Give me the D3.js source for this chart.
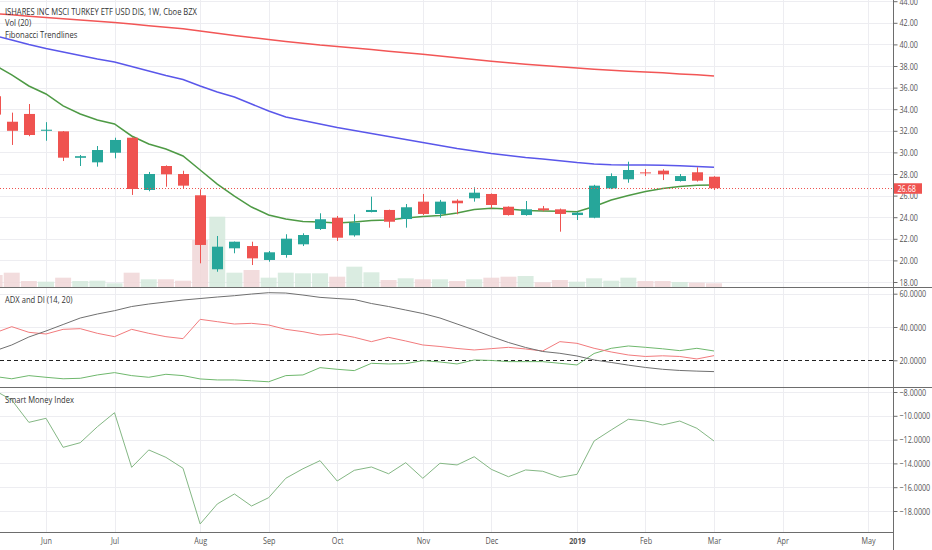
<!DOCTYPE html>
<html>
<head>
<meta charset="utf-8">
<script src="https://cdn.jsdelivr.net/npm/d3@7"></script>
<style>
  body { margin: 0; background: #fff; }
  svg text { font-family: "Open Sans", sans-serif; }
</style>
</head>
<body>
<div id="chart"></div>
<script>

// weekly bars (week start dates)
const weeks = [
  "2018-05-14","2018-05-21","2018-05-28","2018-06-04","2018-06-11","2018-06-18","2018-06-25",
  "2018-07-02","2018-07-09","2018-07-16","2018-07-23","2018-07-30","2018-08-06","2018-08-13",
  "2018-08-20","2018-08-27","2018-09-03","2018-09-10","2018-09-17","2018-09-24","2018-10-01",
  "2018-10-08","2018-10-15","2018-10-22","2018-10-29","2018-11-05","2018-11-12","2018-11-19",
  "2018-11-26","2018-12-03","2018-12-10","2018-12-17","2018-12-24","2018-12-31","2019-01-07",
  "2019-01-14","2019-01-21","2019-01-28","2019-02-04","2019-02-11","2019-02-18","2019-02-25",
  "2019-03-04"
];

const openP = [35.20,32.84,33.56,32.00,31.95,29.50,29.08,29.97,31.36,26.52,28.74,28.00,26.03,19.18,
  21.12,21.33,20.04,20.50,21.49,22.91,23.95,22.32,24.48,24.67,23.83,25.44,24.30,25.53,25.75,26.15,
  24.97,24.20,24.82,24.73,24.20,23.95,26.67,27.51,28.15,28.31,27.35,28.16,27.75];
const highP = [35.60,33.68,34.48,32.80,31.98,29.76,30.59,31.36,31.40,28.19,28.80,28.30,26.58,22.26,
  21.75,21.73,20.87,22.42,22.51,24.36,24.11,24.27,25.90,24.70,25.22,26.15,25.60,25.66,26.77,26.20,
  25.00,25.50,25.04,24.80,24.50,27.00,28.06,29.14,28.46,28.44,28.00,28.62,27.80];
const lowP = [33.20,30.69,31.50,31.08,29.20,28.74,28.68,29.45,26.06,26.40,26.82,26.61,19.73,18.95,
  20.66,19.57,19.88,20.25,21.33,22.82,21.80,22.20,24.45,23.03,23.03,24.20,23.95,24.27,25.44,24.82,
  24.15,24.14,24.55,22.66,23.74,23.90,26.60,27.19,27.81,27.44,27.30,27.30,26.52];
const closeP = [33.50,32.00,31.61,32.10,29.51,29.65,30.22,31.15,26.61,28.00,27.97,26.92,21.43,21.27,
  21.73,20.19,20.75,22.01,22.35,23.81,22.10,23.49,24.67,23.58,24.92,24.30,25.44,25.29,26.27,25.13,
  24.20,24.73,24.64,24.30,24.42,26.92,27.81,28.37,28.10,27.97,27.81,27.38,26.68];

// volume, millions
const volume = [2.40,2.86,1.20,1.06,1.86,1.20,1.26,0.74,2.86,1.54,1.54,1.26,9.40,14.06,2.86,3.40,
  1.86,2.86,2.74,2.74,2.06,4.06,2.94,1.40,1.74,1.54,1.54,1.20,1.54,1.86,2.06,2.20,0.94,1.40,1.06,
  1.74,1.26,1.86,1.20,1.20,1.00,0.86,0.74];

const ma20 = [38.09,37.17,36.15,35.41,34.30,33.56,33.00,32.63,31.52,30.78,30.31,29.67,28.37,27.07,
  25.96,24.94,24.20,23.83,23.60,23.56,23.46,23.56,23.69,23.74,23.93,24.06,24.16,24.39,24.71,24.82,
  24.76,24.62,24.57,24.55,24.51,24.99,25.59,26.01,26.38,26.66,26.84,26.95,26.98];
const ma100 = [40.82,40.41,39.99,39.62,39.30,38.98,38.65,38.37,37.95,37.54,37.12,36.75,36.15,35.59,
  35.13,34.48,33.83,33.28,32.95,32.63,32.31,32.03,31.75,31.47,31.19,30.92,30.64,30.36,30.13,29.90,
  29.71,29.53,29.39,29.23,29.06,28.93,28.86,28.83,28.83,28.81,28.76,28.69,28.62];
const ma200 = [42.86,42.74,42.61,42.49,42.37,42.26,42.14,42.03,41.89,41.73,41.59,41.44,41.24,41.04,
  40.83,40.64,40.45,40.27,40.11,39.94,39.81,39.67,39.52,39.37,39.23,39.08,38.93,38.76,38.60,38.44,
  38.30,38.17,38.05,37.93,37.81,37.70,37.60,37.52,37.44,37.37,37.27,37.18,37.07];

const adx = [25.6,29.2,34.0,37.6,41.5,45.4,47.8,49.8,52.3,53.8,55.0,56.2,57.1,58.0,58.8,59.8,60.6,
  60.4,59.2,57.8,57.1,56.5,54.1,52.3,50.2,48.1,45.4,41.8,38.2,34.3,30.7,27.7,25.3,24.2,22.6,20.2,
  18.7,17.1,15.7,14.6,13.9,13.5,13.2];
const diMinus = [36.4,40.2,36.8,35.8,38.6,39.0,36.2,34.2,38.6,36.2,34.2,33.0,44.6,43.2,41.8,42.2,
  41.2,38.6,37.2,35.2,35.8,33.8,31.2,33.8,31.6,29.2,28.3,27.1,26.2,27.0,27.8,26.8,25.6,31.2,30.2,
  27.2,25.0,23.2,22.3,22.7,22.3,20.8,22.8];
const diPlus = [10.3,8.9,10.8,9.8,8.9,9.2,11.2,12.6,10.8,9.8,11.6,10.8,8.8,8.2,8.2,7.7,7.1,10.8,
  11.2,15.6,14.6,13.8,18.2,17.8,18.0,19.8,19.0,17.8,20.2,19.9,19.2,19.2,19.2,18.2,17.2,24.1,27.2,
  28.6,27.8,26.9,25.8,27.2,25.6];

const smi = [-7.87,-8.67,-10.55,-10.21,-12.65,-12.26,-10.92,-9.74,-14.33,-12.87,-13.49,-14.41,
  -19.09,-17.41,-16.57,-17.58,-16.88,-15.25,-14.45,-13.77,-15.48,-14.58,-14.30,-14.87,-13.94,
  -15.25,-13.99,-14.13,-13.44,-14.50,-15.12,-14.55,-14.66,-15.17,-14.92,-12.12,-11.19,-10.29,
  -10.44,-10.77,-10.44,-11.05,-12.12];

// x-axis ticks: first weekly bar of each month
const monthTicks = ["2018-06-04","2018-07-02","2018-08-06","2018-09-03","2018-10-01","2018-11-05",
  "2018-12-03","2019-01-07","2019-02-04","2019-03-04","2019-04-01","2019-05-06"];
const monthLabels = ["Jun","Jul","Aug","Sep","Oct","Nov","Dec","2019","Feb","Mar","Apr","May"];

const priceTicks = [18,20,22,24,26,28,30,32,34,36,38,40,42,44];
const adxTicks = [20,40,60];
const smiTicks = [-18,-16,-14,-12,-10,-8];

const titleLines = ["ISHARES INC MSCI TURKEY ETF USD DIS, 1W, Cboe BZX", "Vol (20)", "Fibonacci Trendlines"];


class TvChart {

    constructor(_parentElement) {
        this.parentElement = _parentElement;
        this.initVis();
    }

    initVis() {
        let vis = this;

        vis.width = 932;
        vis.height = 550;
        vis.plotRight = 893;
        vis.squeeze = 0.76;

        vis.pane = {
            price: { top: 0, bottom: 287 },
            adx: { top: 287, bottom: 387 },
            smi: { top: 387, bottom: 532 }
        };

        vis.svg = d3.select("#" + vis.parentElement).append("svg")
            .attr("width", vis.width)
            .attr("height", vis.height);

        let parse = d3.utcParse("%Y-%m-%d");
        vis.dates = weeks.map(parse);
        vis.tickDates = monthTicks.map(parse);

        vis.x = d3.scaleUtc()
            .domain([parse("2018-06-04"), parse("2019-03-04")])
            .range([46, 714]);

        vis.yPrice = d3.scaleLinear().domain([18, 44]).range([282, 1.2]);
        vis.yVol = d3.scaleLinear().domain([0, 20]).range([287, 187]);
        vis.yAdx = d3.scaleLinear().domain([20, 60]).range([360.3, 293.7]);
        vis.ySmi = d3.scaleLinear().domain([-18, -8]).range([511, 392]);

        vis.data = weeks.map(function(w, i) {
            return {
                date: vis.dates[i], o: openP[i], h: highP[i], l: lowP[i], c: closeP[i],
                vol: volume[i], ma20: ma20[i], ma100: ma100[i], ma200: ma200[i],
                adx: adx[i], dip: diPlus[i], dim: diMinus[i], smi: smi[i]
            };
        });

        // clip paths per pane
        let defs = vis.svg.append("defs");
        Object.keys(vis.pane).forEach(function(k) {
            defs.append("clipPath").attr("id", "clip-" + k)
                .append("rect")
                .attr("x", 0).attr("y", vis.pane[k].top)
                .attr("width", vis.plotRight).attr("height", vis.pane[k].bottom - vis.pane[k].top);
        });

        vis.drawGrid();
        vis.drawPricePane();
        vis.drawAdxPane();
        vis.drawSmiPane();
        vis.drawAxes();
        vis.drawLabels();
        vis.squeezeText();
    }

    drawGrid() {
        let vis = this;
        let grid = vis.svg.append("g").attr("class", "grid")
            .attr("stroke", "#ededf1").attr("stroke-width", 1);

        grid.selectAll(".vgrid").data(vis.tickDates).enter().append("line")
            .attr("x1", d => Math.round(vis.x(d)) + 0.5).attr("x2", d => Math.round(vis.x(d)) + 0.5)
            .attr("y1", 0).attr("y2", vis.pane.smi.bottom);

        let hLines = priceTicks.map(d => vis.yPrice(d))
            .concat([40, 60].map(d => vis.yAdx(d)))
            .concat(smiTicks.map(d => vis.ySmi(d)));

        grid.selectAll(".hgrid").data(hLines).enter().append("line")
            .attr("x1", 0).attr("x2", vis.plotRight)
            .attr("y1", d => Math.round(d) + 0.5).attr("y2", d => Math.round(d) + 0.5);
    }

    drawPricePane() {
        let vis = this;
        let g = vis.svg.append("g").attr("clip-path", "url(#clip-price)");

        // volume
        g.selectAll(".vol").data(vis.data).enter().append("rect")
            .attr("x", d => vis.x(d.date) - 8)
            .attr("width", 16)
            .attr("y", d => vis.yVol(d.vol))
            .attr("height", d => vis.yVol(0) - vis.yVol(d.vol))
            .attr("fill", d => d.c >= d.o ? "#d4e9dc" : "#f0d6d7")
            .attr("fill-opacity", 0.85);

        // moving averages
        let maSpecs = [["ma200", "#f25656"], ["ma100", "#5a57ea"], ["ma20", "#4e9a45"]];
        maSpecs.forEach(function(s) {
            let line = d3.line()
                .x(d => vis.x(d.date))
                .y(d => vis.yPrice(d[s[0]]));
            g.append("path").datum(vis.data)
                .attr("d", line)
                .attr("fill", "none")
                .attr("stroke", s[1])
                .attr("stroke-width", 1.5);
        });

        // candles
        let candles = g.selectAll(".candle").data(vis.data).enter().append("g")
            .attr("class", "candle");

        candles.append("line")
            .attr("x1", d => Math.round(vis.x(d.date)) + 0.5)
            .attr("x2", d => Math.round(vis.x(d.date)) + 0.5)
            .attr("y1", d => vis.yPrice(d.h))
            .attr("y2", d => vis.yPrice(d.l))
            .attr("stroke", d => d.c >= d.o ? "#26a69a" : "#ef5350")
            .attr("stroke-width", 1);

        candles.append("rect")
            .attr("x", d => Math.round(vis.x(d.date)) - 5)
            .attr("width", 11)
            .attr("y", d => vis.yPrice(Math.max(d.o, d.c)))
            .attr("height", d => Math.max(1, vis.yPrice(Math.min(d.o, d.c)) - vis.yPrice(Math.max(d.o, d.c))))
            .attr("fill", d => d.c >= d.o ? "#26a69a" : "#ef5350");

        // last price line
        let last = vis.data[vis.data.length - 1];
        vis.svg.append("line")
            .attr("x1", 0).attr("x2", vis.plotRight)
            .attr("y1", Math.round(vis.yPrice(last.c)) + 0.5)
            .attr("y2", Math.round(vis.yPrice(last.c)) + 0.5)
            .attr("stroke", "#ef5350")
            .attr("stroke-dasharray", "1,2");
    }

    drawAdxPane() {
        let vis = this;
        let g = vis.svg.append("g").attr("clip-path", "url(#clip-adx)");

        g.append("line")
            .attr("x1", 0).attr("x2", vis.plotRight)
            .attr("y1", Math.round(vis.yAdx(20)) + 0.5).attr("y2", Math.round(vis.yAdx(20)) + 0.5)
            .attr("stroke", "#222")
            .attr("stroke-dasharray", "4,3");

        let specs = [["dip", "#6fb86d"], ["dim", "#f27b7d"], ["adx", "#707070"]];
        specs.forEach(function(s) {
            let line = d3.line()
                .x(d => vis.x(d.date))
                .y(d => vis.yAdx(d[s[0]]));
            g.append("path").datum(vis.data)
                .attr("d", line)
                .attr("fill", "none")
                .attr("stroke", s[1])
                .attr("stroke-width", 1);
        });
    }

    drawSmiPane() {
        let vis = this;
        let g = vis.svg.append("g").attr("clip-path", "url(#clip-smi)");

        let line = d3.line()
            .x(d => vis.x(d.date))
            .y(d => vis.ySmi(d.smi));

        g.append("path").datum(vis.data)
            .attr("d", line)
            .attr("fill", "none")
            .attr("stroke", "#84b784")
            .attr("stroke-width", 1);
    }

    drawAxes() {
        let vis = this;

        // pane separators
        [vis.pane.price.bottom, vis.pane.adx.bottom].forEach(function(y) {
            vis.svg.append("line")
                .attr("x1", 0).attr("x2", vis.width)
                .attr("y1", y + 0.5).attr("y2", y + 0.5)
                .attr("stroke", "#6d6d6d");
        });
        vis.svg.append("line")
            .attr("x1", 0).attr("x2", vis.plotRight)
            .attr("y1", vis.pane.smi.bottom + 0.5).attr("y2", vis.pane.smi.bottom + 0.5)
            .attr("stroke", "#6d6d6d");
        vis.svg.append("line")
            .attr("x1", vis.plotRight + 0.5).attr("x2", vis.plotRight + 0.5)
            .attr("y1", 0).attr("y2", vis.height)
            .attr("stroke", "#6d6d6d");

        let axes = [
            [vis.yPrice, priceTicks, d3.format(".2f")],
            [vis.yAdx, adxTicks, d3.format(".4f")],
            [vis.ySmi, smiTicks, d3.format(".4f")]
        ];
        axes.forEach(function(a) {
            let ax = d3.axisRight(a[0]).tickValues(a[1]).tickFormat(a[2])
                .tickSize(4).tickPadding(2);
            let g = vis.svg.append("g")
                .attr("class", "y-axis axis")
                .attr("transform", "translate(" + (vis.plotRight + 0.5) + ",0)")
                .call(ax);
            g.select(".domain").remove();
            g.selectAll("line").attr("stroke", "#6d6d6d");
            g.selectAll("text").attr("class", "sq").attr("fill", "#555")
                .attr("font-size", "9.5px").attr("font-family", "Open Sans, sans-serif");
        });

        let xAxis = d3.axisBottom(vis.x)
            .tickValues(vis.tickDates)
            .tickFormat((d, i) => monthLabels[i])
            .tickSize(0).tickPadding(5);
        let gx = vis.svg.append("g")
            .attr("class", "x-axis axis")
            .attr("transform", "translate(0," + vis.pane.smi.bottom + ")")
            .call(xAxis);
        gx.select(".domain").remove();
        gx.selectAll("text").attr("class", "sq").attr("fill", "#555")
            .attr("font-size", "9.5px").attr("font-family", "Open Sans, sans-serif")
            .attr("font-weight", (d, i) => monthLabels[i] === "2019" ? "bold" : "normal");

        // last price tag
        let last = vis.data[vis.data.length - 1];
        let yl = vis.yPrice(last.c);
        vis.svg.append("rect")
            .attr("x", vis.plotRight + 1).attr("y", yl - 5)
            .attr("width", 28).attr("height", 10.5)
            .attr("fill", "#ef5350");
        vis.svg.append("text")
            .attr("class", "sq")
            .attr("x", vis.plotRight + 4.5).attr("y", yl + 3.5)
            .attr("font-size", "9.5px")
            .attr("fill", "#fff")
            .text(d3.format(".2f")(last.c));
    }

    drawLabels() {
        let vis = this;

        vis.svg.selectAll(".title").data(titleLines).enter().append("text")
            .attr("class", "sq wide")
            .attr("x", 5)
            .attr("y", (d, i) => 15 + i * 11.5)
            .attr("font-size", "9.5px")
            .attr("fill", "#333")
            .text(d => d);

        vis.svg.append("text")
            .attr("class", "sq wide")
            .attr("x", 5).attr("y", 303.5)
            .attr("font-size", "9.5px").attr("fill", "#333")
            .text("ADX and DI (14, 20)");

        vis.svg.append("text")
            .attr("class", "sq wide")
            .attr("x", 5).attr("y", 403)
            .attr("font-size", "9.5px").attr("fill", "#333")
            .text("Smart Money Index");
    }

    // the reference glyphs are narrow: scale text horizontally around its anchor
    squeezeText() {
        let vis = this;
        vis.svg.selectAll("text.sq").each(function() {
            let x0 = +(this.getAttribute("x") || 0);
            let k = this.classList.contains("wide") ? 0.8 : vis.squeeze;
            d3.select(this).attr("transform",
                "translate(" + x0 + ",0) scale(" + k + ",1) translate(" + (-x0) + ",0)");
        });
    }
}

new TvChart("chart");

</script>
</body>
</html>
